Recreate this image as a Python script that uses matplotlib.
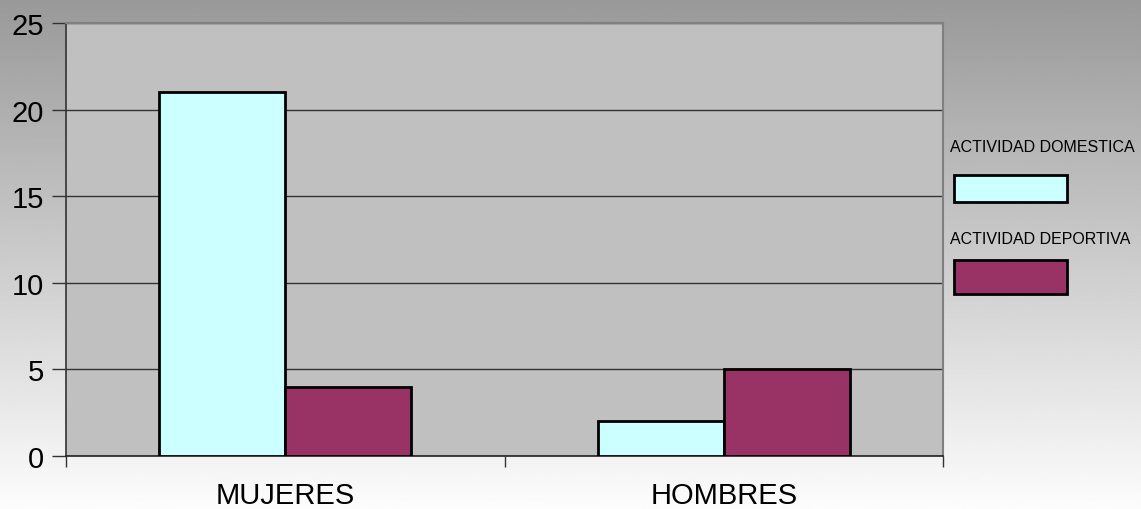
import numpy as np
import matplotlib
matplotlib.use("Agg")
import matplotlib.pyplot as plt
from matplotlib.patches import Rectangle

categories = ["MUJERES", "HOMBRES"]
series_names = ["ACTIVIDAD DOMESTICA", "ACTIVIDAD DEPORTIVA"]
domestica = [21, 2]
deportiva = [4, 5]
yticks = [0, 5, 10, 15, 20, 25]

colors = ["#CCFFFF", "#993366"]

plt.rcParams['font.family'] = ['Liberation Sans', 'DejaVu Sans']

W, H = 1141, 510
fig = plt.figure(figsize=(W / 100, H / 100), dpi=100)

# background gradient
bg = fig.add_axes([0, 0, 1, 1], zorder=-10)
grad = np.linspace(0.60, 0.99, 256).reshape(-1, 1)
bg.imshow(grad, aspect='auto', cmap='gray', vmin=0, vmax=1, extent=[0, 1, 0, 1], origin='upper')
bg.set_axis_off()

left, right, top, bottom = 66, 943, 24, 457
ax = fig.add_axes([left / W, 1 - bottom / H, (right - left) / W, (bottom - top) / H])
ax.set_facecolor("#C0C0C0")

x = np.arange(len(categories))
bw = 0.287
for i, (vals, name) in enumerate([(domestica, series_names[0]), (deportiva, series_names[1])]):
    ax.bar(x + (i - 0.5) * bw, vals, width=bw, align='center', color=colors[i],
           edgecolor='black', linewidth=2, label=name, zorder=3)

ax.set_xlim(-0.5, len(categories) - 0.5)
ax.set_ylim(0, 25)
ax.set_yticks(yticks)
ax.set_yticklabels([str(v) for v in yticks], fontsize=21)
ax.yaxis.grid(True, color='#333333', linewidth=1, zorder=1)
ax.set_axisbelow(True)

ax.set_xticks(np.arange(-0.5, len(categories), 1.0))
ax.set_xticklabels([])
ax.set_xticks(x, minor=True)
ax.set_xticklabels(categories, minor=True, fontsize=21)
ax.tick_params(axis='x', which='minor', length=0, pad=18)
ax.tick_params(axis='x', which='major', length=8, width=1, color='#333333')
ax.tick_params(axis='y', length=10, width=1, color='#333333', pad=6)

for s in ['top', 'right']:
    ax.spines[s].set_color('#808080')
    ax.spines[s].set_linewidth(1.5)
ax.spines['left'].set_color('#333333')
ax.spines['bottom'].set_color('#222222')
ax.spines['left'].set_linewidth(1.2)
ax.spines['bottom'].set_linewidth(1.2)

# legend drawn manually at right
text_y = [148, 240]
box_y = [(176, 203), (261, 295)]
for i, name in enumerate(series_names):
    fig.text(950 / W, 1 - text_y[i] / H, name, fontsize=11.5, ha='left', va='center')
    y0, y1 = box_y[i]
    fig.patches.append(Rectangle((954 / W, 1 - y1 / H), (1067 - 954) / W, (y1 - y0) / H,
                                 transform=fig.transFigure, facecolor=colors[i],
                                 edgecolor='black', linewidth=2, figure=fig))

fig.savefig("out.png", dpi=100)
